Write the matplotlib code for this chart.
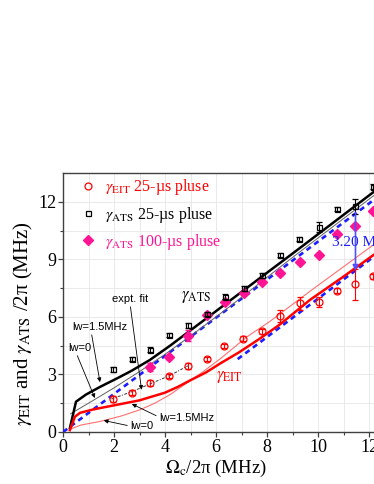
import matplotlib
matplotlib.use("Agg")
import matplotlib.pyplot as plt
from matplotlib.lines import Line2D

plt.rcParams['font.family'] = ['Liberation Serif', 'DejaVu Serif']
plt.rcParams['mathtext.fontset'] = 'stix'

# ---------------- data ----------------
# gamma_EIT, 25-us pulse (red open circles)
eit_x = [1.97, 2.70, 3.41, 4.16, 4.89, 5.63, 6.33, 7.07, 7.82, 8.51, 9.29, 10.02, 10.73, 11.47, 12.17]
eit_y = [1.72, 2.05, 2.54, 2.92, 3.45, 3.80, 4.48, 4.86, 5.24, 6.04, 6.70, 6.79, 7.36, 7.69, 8.12]
eit_err = [0.15, 0.12, 0.15, 0.12, 0.15, 0.12, 0.12, 0.12, 0.12, 0.30, 0.35, 0.25, 0.12, 0.82, 0.12]

# gamma_ATS, 25-us pulse (black open squares)
ats_x = [1.95, 2.69, 3.41, 4.16, 4.89, 5.63, 6.35, 7.10, 7.80, 8.50, 9.27, 10.03, 10.73, 11.46, 12.14]
ats_y = [3.26, 3.80, 4.30, 5.05, 5.56, 6.15, 7.05, 7.48, 8.16, 9.22, 10.07, 10.70, 11.62, 11.77, 12.79]
ats_err = [0.12, 0.12, 0.12, 0.12, 0.12, 0.12, 0.12, 0.12, 0.12, 0.12, 0.12, 0.25, 0.12, 0.40, 0.12]

# gamma_ATS, 100-us pulse (magenta diamonds)
ats100_x = [3.40, 4.17, 4.90, 5.63, 6.35, 7.10, 7.80, 8.50, 9.28, 10.03, 10.75, 11.45, 12.14]
ats100_y = [3.38, 3.89, 5.02, 6.12, 6.80, 7.22, 7.80, 8.30, 8.88, 9.25, 10.32, 10.75, 11.50]
ats100_err = [0.2, 0.1, 0.3, 0.1, 0.1, 0.1, 0.1, 0.1, 0.1, 0.1, 0.1, 0.1, 0.1]

# theory ATS, lw = 1.5 MHz (thick black)
atsT15_x = [0.27, 0.51, 0.90, 1.45, 2.20, 2.70, 3.40, 4.20, 4.90, 6.00, 7.70, 9.20, 12.17, 13.50]
atsT15_y = [0.20, 1.58, 1.95, 2.35, 2.85, 3.20, 3.75, 4.50, 5.20, 6.30, 8.00, 9.50, 12.50, 13.85]
# theory ATS, lw = 0 (thin black)
atsT0_x = [0.30, 1.00, 2.00, 3.00, 4.00, 5.00, 6.50, 9.00, 13.50]
atsT0_y = [0.95, 1.50, 2.30, 3.15, 4.05, 5.00, 6.50, 9.10, 13.65]
# theory EIT, lw = 1.5 MHz (thick red)
eitT15_x = [0.27, 0.47, 0.67, 1.20, 1.85, 2.50, 3.00, 3.50, 4.00, 4.50, 5.00, 5.60, 6.20, 6.90, 7.70,
            8.50, 9.70, 11.00, 12.17, 13.50]
eitT15_y = [0.10, 0.80, 1.00, 1.18, 1.35, 1.52, 1.65, 1.85, 2.05, 2.35, 2.70, 3.10, 3.60, 4.15, 4.85,
            5.60, 6.90, 8.10, 9.22, 10.45]
# theory EIT, lw = 0 (thin red)
eitT0_x = [0.27, 0.70, 1.45, 2.25, 3.00, 3.60, 4.20, 4.80, 5.50, 6.20, 7.20, 8.10, 9.70, 12.17, 13.50]
eitT0_y = [0.14, 0.36, 0.55, 0.82, 1.15, 1.50, 1.95, 2.50, 3.15, 3.85, 4.95, 5.75, 7.35, 9.75, 11.05]
# experimental fit (black dash-dot)
fit_x = [1.90, 2.70, 3.40, 4.20, 4.90]
fit_y = [1.72, 2.10, 2.50, 2.95, 3.45]
# asymptotes (blue dashed)
asym_up_x = [0.0, 13.5]
asym_up_y = [0.0, 13.4]
asym_lo_x = [6.85, 13.5]
asym_lo_y = [3.80, 10.45]
# splitting arrow
split_x = 11.47
split_y = [11.45, 8.40]

legend_labels = [r'$\gamma_{\rm EIT}$ 25-µs pluse',
                 r'$\gamma_{\rm ATS}$ 25-µs pluse',
                 r'$\gamma_{\rm ATS}$ 100-µs pluse']

# ---------------- figure ----------------
fig = plt.figure(figsize=(3.74, 4.84), dpi=100)
ax = fig.add_axes([63 / 374, 52 / 484, 344.25 / 374, 259 / 484])
ax.set_xlim(0, 13.5)
ax.set_ylim(0, 13.5)

red = '#ff0000'
mag = '#ff1493'
blue = '#1c1cff'

ax.plot(asym_up_x, asym_up_y, color=blue, lw=1.9, ls=(0, (2.0, 1.6)), zorder=3)
ax.plot(asym_lo_x, asym_lo_y, color=blue, lw=1.9, ls=(0, (2.0, 1.6)), zorder=3)
ax.plot(atsT0_x, atsT0_y, color='#606060', lw=0.7, zorder=3)
ax.plot(atsT15_x, atsT15_y, color='black', lw=1.8, zorder=4)
ax.plot(eitT0_x, eitT0_y, color='#ff7070', lw=0.8, zorder=3)
ax.plot(eitT15_x, eitT15_y, color=red, lw=1.8, zorder=4)
ax.plot(fit_x, fit_y, color='#333333', lw=0.7, ls=(0, (3, 1.5, 1, 1.5)), zorder=3)

ax.errorbar(ats100_x, ats100_y, yerr=ats100_err, fmt='D', ms=4.6, mfc=mag, mec=mag,
            ecolor=mag, elinewidth=0.8, capsize=2, zorder=5)
ax.errorbar(ats_x, ats_y, yerr=ats_err, fmt='s', ms=3.6, mfc='none', mec='black', mew=0.9,
            ecolor='black', elinewidth=0.8, capsize=2, zorder=6)
ax.errorbar(eit_x, eit_y, yerr=eit_err, fmt='o', ms=5.0, mfc='none', mec=red, mew=0.9,
            ecolor=red, elinewidth=0.8, capsize=2, zorder=6)

ax.annotate('', xy=(split_x, split_y[1]), xytext=(split_x, split_y[0]),
            arrowprops=dict(arrowstyle='-|>', color='#5050ff', lw=1.2, mutation_scale=8,
                            shrinkA=0, shrinkB=0), zorder=7)
ax.text(10.55, 9.86, '3.20 MHz', color=blue, fontsize=11, va='center', ha='left', zorder=8)

ax.text(4.63, 7.03, r'$\gamma_{\rm ATS}$', fontsize=12, color='black', va='center', ha='left')
ax.text(6.0, 2.86, r'$\gamma_{\rm EIT}$', fontsize=12, color=red, va='center', ha='left')

sans = ['Liberation Sans', 'DejaVu Sans']
ap = dict(arrowstyle='-|>', color='black', lw=0.6, mutation_scale=6, shrinkA=0, shrinkB=0)
ax.annotate('expt. fit', xy=(3.08, 2.2), xytext=(2.63, 6.93), fontsize=8, family=sans,
            ha='center', va='center', arrowprops=dict(ap, relpos=(0.5, 0.0)))
ax.annotate('lw=1.5MHz', xy=(1.45, 2.6), xytext=(0.35, 5.47), fontsize=8, family=sans,
            ha='left', va='center', arrowprops=dict(ap, relpos=(0.35, 0.0)))
ax.annotate('lw=0', xy=(1.25, 1.77), xytext=(0.2, 4.38), fontsize=8, family=sans,
            ha='left', va='center', arrowprops=dict(ap, relpos=(0.35, 0.0)))
ax.annotate('lw=1.5MHz', xy=(2.7, 1.46), xytext=(3.76, 0.73), fontsize=8, family=sans,
            ha='left', va='center', arrowprops=dict(ap, relpos=(0.0, 0.6)))
ax.annotate('lw=0', xy=(1.6, 0.6), xytext=(2.63, 0.31), fontsize=8, family=sans,
            ha='left', va='center', arrowprops=dict(ap, relpos=(0.0, 0.5)))

# axes styling
ax.set_xticks([0, 2, 4, 6, 8, 10, 12])
ax.set_xticks([1, 3, 5, 7, 9, 11, 13], minor=True)
ax.set_yticks([0, 3, 6, 9, 12])
ax.set_yticks([1.5, 4.5, 7.5, 10.5], minor=True)
ax.grid(True, which='both', color='#e6e6e6', lw=0.6, zorder=0)
ax.set_axisbelow(True)
for s in ax.spines.values():
    s.set_color('#404040')
    s.set_linewidth(1.0)
ax.tick_params(which='major', direction='out', length=3.5, width=0.9, color='#404040',
               labelsize=13, pad=1.5)
ax.tick_params(which='minor', direction='out', length=2, width=0.8, color='#404040')

ax.set_xlabel(r'$\Omega_{\rm c}$/2π (MHz)', fontsize=13.5)
ax.xaxis.set_label_coords(0.445, -0.1)
ax.set_ylabel(r'$\gamma_{\rm EIT}$ and $\gamma_{\rm ATS}$ /2π (MHz)', fontsize=15)
ax.yaxis.set_label_coords(-0.08, 0.42)

handles = [Line2D([], [], ls='none', marker='o', ms=5.0, mfc='none', mec=red, mew=0.9),
           Line2D([], [], ls='none', marker='s', ms=3.6, mfc='none', mec='black', mew=0.9),
           Line2D([], [], ls='none', marker='D', ms=4.6, mfc=mag, mec=mag)]
leg = ax.legend(handles, legend_labels, loc='upper left',
                bbox_to_anchor=(0.03, 1.02), frameon=False, fontsize=11.5,
                handlelength=0.6, handletextpad=0.8, labelspacing=0.45, borderaxespad=0.2)
for t, c in zip(leg.get_texts(), [red, 'black', mag]):
    t.set_color(c)

fig.savefig('out.png', dpi=100)
